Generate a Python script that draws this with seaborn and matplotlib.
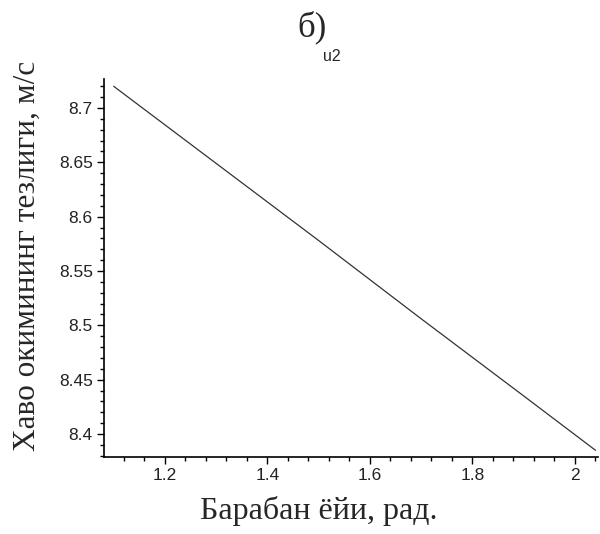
import numpy as np
import pandas as pd
import matplotlib
matplotlib.use("Agg")
import matplotlib.pyplot as plt
import seaborn as sns
from matplotlib.ticker import MultipleLocator

# data (straight line)
angle = [1.10, 1.30, 1.50, 1.70, 1.90, 2.04]
speed = [8.720, 8.649, 8.578, 8.506, 8.435, 8.385]

df = pd.DataFrame({'angle': angle, 'speed': speed})

sns.set_style("ticks")

fig = plt.figure(figsize=(6, 5.34), dpi=100)
ax = fig.add_axes([0.1733, 0.1442, 0.8234, 0.7078])

sns.lineplot(data=df, x='angle', y='speed', color='#333333', linewidth=0.9, ax=ax)

ax.set_xlim(1.081, 2.045)
ax.set_ylim(8.3788, 8.7267)

ax.xaxis.set_major_locator(MultipleLocator(0.2))
ax.xaxis.set_minor_locator(MultipleLocator(0.04))
ax.yaxis.set_major_locator(MultipleLocator(0.05))
ax.yaxis.set_minor_locator(MultipleLocator(0.01))
ax.set_xticks([1.2, 1.4, 1.6, 1.8, 2.0])
ax.set_xticklabels(['1.2', '1.4', '1.6', '1.8', '2'])
ax.set_yticks([8.4, 8.45, 8.5, 8.55, 8.6, 8.65, 8.7])
ax.set_yticklabels(['8.4', '8.45', '8.5', '8.55', '8.6', '8.65', '8.7'])

ax.tick_params(which='major', length=5, width=1, color='black', labelsize=12.5, pad=3)
ax.tick_params(which='minor', length=3, width=1, color='black')
for lab in ax.get_xticklabels() + ax.get_yticklabels():
    lab.set_family('Liberation Sans')
    lab.set_color('#222222')

sns.despine(ax=ax)
for s in ['left', 'bottom']:
    ax.spines[s].set_color('black')
    ax.spines[s].set_linewidth(1.2)

ax.set_xlabel('')
ax.set_ylabel('')

serif = ['Liberation Serif', 'DejaVu Serif']
fig.text(0.52, 0.948, 'б)', family=serif, fontsize=25, ha='center', va='center')
fig.text(0.553, 0.895, 'u2', family='Liberation Sans', fontsize=11.5, ha='center', va='center')
fig.text(0.045, 0.521, 'Хаво окимининг тезлиги, м/с', family=serif, fontsize=22.5,
         rotation=90, ha='center', va='center')
fig.text(0.531, 0.043, 'Барабан ёйи, рад.', family=serif, fontsize=23,
         ha='center', va='center')

fig.savefig('out.png', dpi=100)
